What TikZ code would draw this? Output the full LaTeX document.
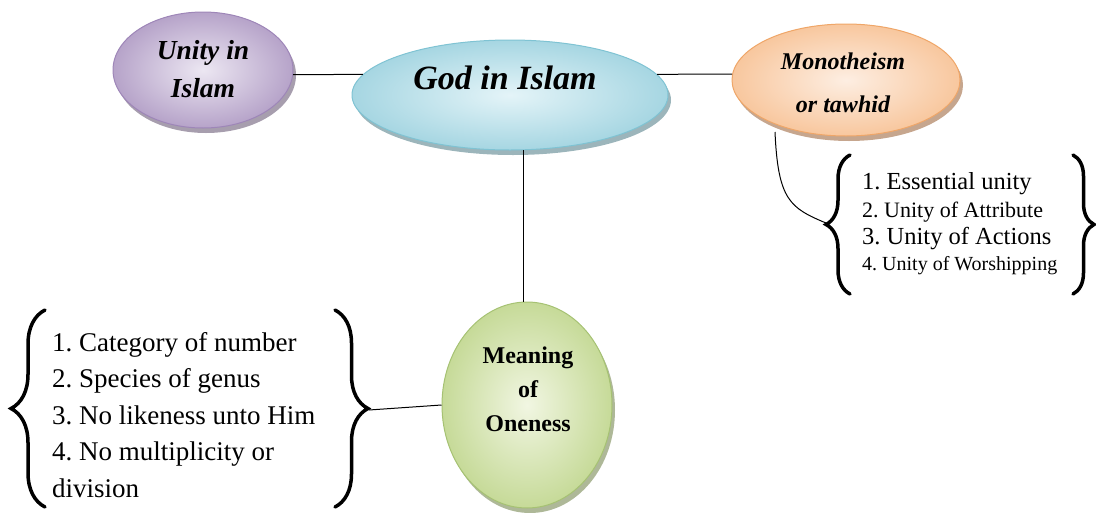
\documentclass[tikz,border=0pt]{standalone}
\usepackage{fontspec}
\setmainfont{Liberation Serif}
\usetikzlibrary{shapes.geometric,shadows,decorations.pathreplacing}
\definecolor{puIn}{HTML}{ECE7F2}\definecolor{puOut}{HTML}{B6A3C9}\definecolor{puBd}{HTML}{9E86B8}\definecolor{puSh}{HTML}{A79EAE}
\definecolor{blIn}{HTML}{E4F4F8}\definecolor{blOut}{HTML}{A6D6E2}\definecolor{blBd}{HTML}{7FC3D3}\definecolor{blSh}{HTML}{9CB5BB}
\definecolor{orIn}{HTML}{FDEEE2}\definecolor{orOut}{HTML}{F8C79E}\definecolor{orBd}{HTML}{EFA668}\definecolor{orSh}{HTML}{C6A68E}
\definecolor{grIn}{HTML}{F1F6E2}\definecolor{grOut}{HTML}{C6DA98}\definecolor{grBd}{HTML}{A6C273}\definecolor{grSh}{HTML}{AEB898}
\tikzset{
  bubble/.style={ellipse, draw=#1Bd, line width=1pt, inner color=#1In, outer color=#1Out,
    drop shadow={shadow xshift=3pt, shadow yshift=-5pt, fill=#1Sh, opacity=1}},
  bigtxt/.style={font=\fontsize{34}{40}\selectfont\bfseries\itshape, inner sep=0pt},
  midtxt/.style={font=\fontsize{27.5}{38}\selectfont\bfseries\itshape, align=center, inner sep=0pt},
  montxt/.style={font=\fontsize{24}{28}\selectfont\bfseries\itshape, inner sep=0pt},
  meantxt/.style={font=\fontsize{24}{34}\selectfont\bfseries, align=center, inner sep=0pt},
  listtxt/.style={font=\fontsize{27}{36.5}\selectfont, align=left, anchor=west, inner sep=0pt},
  conn/.style={draw=black, line width=1pt},
  bracestyle/.style={decorate, decoration={brace, amplitude=#1}, line width=3.5pt, line cap=round}
}
\begin{document}
\frenchspacing
\begin{tikzpicture}[x=1pt,y=-1pt]
\useasboundingbox (0,0) rectangle (1096,512);
% ellipses
\node[bubble=pu, minimum width=180pt, minimum height=116pt] (unity) at (203,70) {};
\node[bubble=bl, minimum width=316pt, minimum height=110pt] (god) at (510,95) {};
\node[bubble=or, minimum width=228pt, minimum height=112pt] (mono) at (846,80) {};
\node[bubble=gr, minimum width=170pt, minimum height=206pt] (mean) at (527,405) {};
% labels
\node[midtxt] (unityt) at (203,69) {Unity in\\Islam};
\node[bigtxt] (godt) at (505,78) {God in Islam};
\node[montxt] (monot1) at (843,61) {Monotheism};
\node[montxt] (monot2) at (843,104) {or tawhid};
\node[meantxt] (meant) at (528,389) {Meaning\\of\\Oneness};
% lists
\node[listtxt] (list1) at (52,415) {\frenchspacing 1. Category of number\\2. Species of genus\\3. No likeness unto Him\\4. No multiplicity or\\division};
\node[anchor=west, inner sep=0pt, font=\fontsize{24.5}{28}\selectfont] (l21) at (862,184) {1. Essential unity};
\node[anchor=west, inner sep=0pt, font=\fontsize{22}{26}\selectfont] (l22) at (862,212) {2. Unity of Attribute};
\node[anchor=west, inner sep=0pt, font=\fontsize{24.5}{28}\selectfont] (l23) at (862,239) {3. Unity of Actions};
\node[anchor=west, inner sep=0pt, font=\fontsize{20}{24}\selectfont] (l24) at (862,266) {4. Unity of Worshipping};
% braces
\coordinate (b1lb) at (45,507); \coordinate (b1lt) at (45,310);
\coordinate (b1rt) at (335,310); \coordinate (b1rb) at (335,507);
\coordinate (b1tip) at (369,410);
\draw[bracestyle=34pt] (b1lb) -- (b1lt);
\draw[bracestyle=33pt] (b1rt) -- (b1rb);
\coordinate (b2lb) at (850,294); \coordinate (b2lt) at (850,155);
\coordinate (b2rt) at (1073,155); \coordinate (b2rb) at (1073,294);
\coordinate (b2tip) at (826,223);
\draw[bracestyle=24pt] (b2lb) -- (b2lt);
\draw[bracestyle=21pt] (b2rt) -- (b2rb);
% connectors
\draw[conn] (unity.-3) -- (god.172);
\draw[conn] (god.8) -- (mono.177);
\draw[conn] (god.-76) -- (god.-76 |- mean.north);
\draw[conn] (mean.west) -- (b1tip);
\coordinate (monob) at (775,132);
\draw[conn] (monob) .. controls (778,200) and (790,208) .. (b2tip);
\end{tikzpicture}
\end{document}
